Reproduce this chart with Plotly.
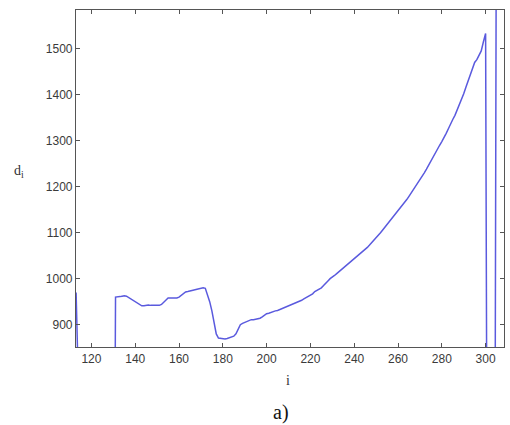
import plotly.graph_objects as go

# index i and value d_i
i_vals = list(range(113, 306))
d_left = [970] + [0] * 17  # i = 113..130
d_mid = [
    960, 960, 961, 962, 963, 962, 959, 956, 952, 950,   # 131-140
    946, 943, 941, 941, 942, 943, 942, 942, 941, 941,   # 141-150
    942, 944, 948, 954, 958, 958, 958, 957, 958, 960,   # 151-160
    964, 968, 971, 972, 973, 975, 976, 976, 977, 979,   # 161-170
    980, 979, 965, 950, 930, 905, 880, 871, 870, 869,   # 171-180
    869, 870, 872, 874, 875, 880, 892, 900, 903, 905,   # 181-190
    906, 909, 911, 911, 912, 912, 914, 917, 921, 924,   # 191-200
    925, 927, 929, 930, 931, 933, 935, 937, 939, 940,   # 201-210
    942, 944, 946, 948, 950, 953, 956, 959, 961, 964,   # 211-220
    967, 972, 975, 977, 980, 985, 991, 995, 1000, 1003, # 221-230
    1007, 1011, 1015, 1018, 1023, 1027, 1031, 1035, 1039, 1042,  # 231-240
    1046, 1051, 1055, 1059, 1064, 1068, 1073, 1078, 1083, 1088,  # 241-250
    1094, 1100, 1106, 1112, 1118, 1124, 1130, 1136, 1142, 1147,  # 251-260
    1152, 1159, 1165, 1172, 1179, 1186, 1193, 1200, 1208, 1215,  # 261-270
    1222, 1230, 1238, 1247, 1257, 1266, 1274, 1282, 1290, 1298,  # 271-280
    1306, 1316, 1326, 1338, 1346, 1355, 1366, 1378, 1390, 1402,  # 281-290
    1416, 1430, 1446, 1460, 1470, 1476, 1484, 1495, 1515, 1533,  # 291-300
]
d_right = [0, 0, 0, 0, 2000]  # i = 301..305
d_vals = d_left + d_mid + d_right

x_ticks = [120, 140, 160, 180, 200, 220, 240, 260, 280, 300]
y_ticks = [900, 1000, 1100, 1200, 1300, 1400, 1500]

fig = go.Figure()
fig.add_trace(go.Scatter(
    x=i_vals, y=d_vals, mode="lines",
    line=dict(color="#5a5ade", width=1.5),
    showlegend=False, hoverinfo="skip",
))

axis_common = dict(
    showline=True, linecolor="#555555", linewidth=1.2, mirror="ticks",
    ticks="inside", ticklen=4, tickcolor="#555555", tickwidth=1,
    showgrid=False, zeroline=False, automargin=False,
    tickfont=dict(family="Liberation Sans, Arial, sans-serif", size=12, color="#3a3a3a"),
)

fig.update_xaxes(range=[112.95, 308.4], tickvals=x_ticks, **axis_common)
fig.update_yaxes(range=[851.5, 1584], tickvals=y_ticks, **axis_common)

W, H = 510, 425
l, r, t, b = 76, 6, 10, 78
pw, ph = W - l - r, H - t - b


def px2paper(px, py):
    return (px - l) / pw, 1 - (py - t) / ph


serif = "Liberation Serif, Times New Roman, serif"
labels = [
    ("d<sub>i</sub>", 19, 172, 14, "#333333"),
    ("i", 288, 380, 14, "#333333"),
    ("a)", 281, 412, 20, "#111111"),
]
annotations = []
for text, px, py, size, color in labels:
    ax, ay = px2paper(px, py)
    annotations.append(dict(
        text=text, x=ax, y=ay, xref="paper", yref="paper", showarrow=False,
        font=dict(family=serif, size=size, color=color),
        xanchor="center", yanchor="middle",
    ))

fig.update_layout(
    width=W, height=H,
    margin=dict(l=l, r=r, t=t, b=b),
    paper_bgcolor="white", plot_bgcolor="white",
    annotations=annotations,
)

fig.write_html("out.html")
